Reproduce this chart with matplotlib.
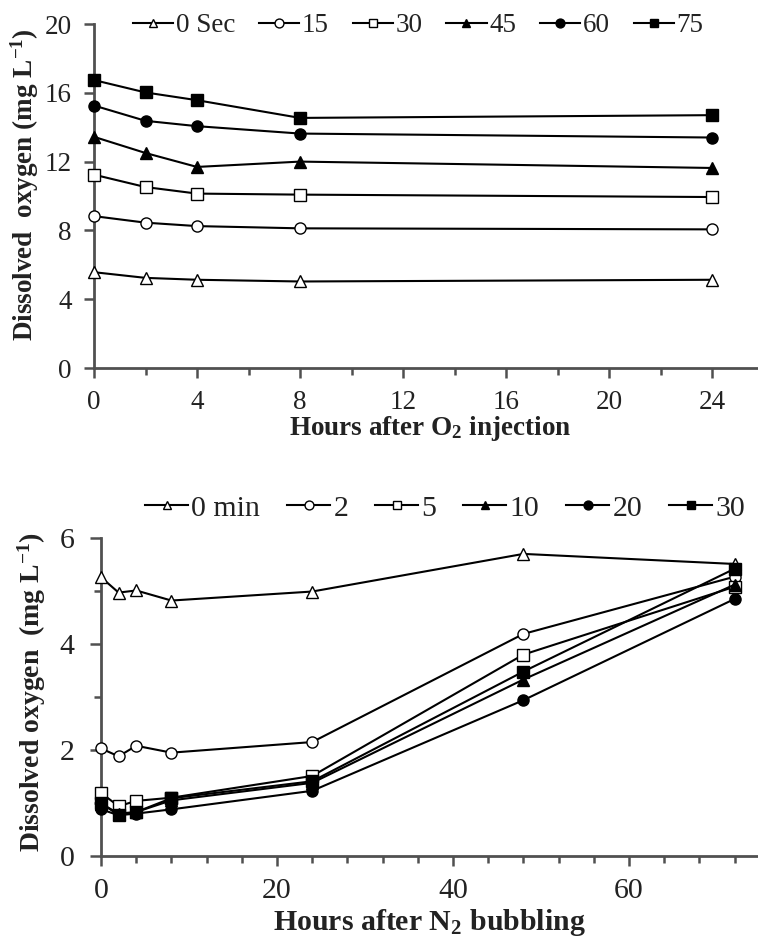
import matplotlib
matplotlib.use("Agg")
import matplotlib.pyplot as plt
from matplotlib.ticker import MultipleLocator

plt.rcParams['font.family'] = ['Liberation Serif', 'DejaVu Serif']
plt.rcParams['mathtext.fontset'] = 'custom'
plt.rcParams['mathtext.rm'] = 'Liberation Serif'
plt.rcParams['mathtext.bf'] = 'Liberation Serif:bold'
plt.rcParams['mathtext.it'] = 'Liberation Serif:italic'

# ---- Top panel data: O2 injection ----
top_hours = [0, 2, 4, 8, 24]
top_labels = ['0 Sec', '15', '30', '45', '60', '75']
top_0 = [5.57, 5.24, 5.13, 5.03, 5.13]
top_15 = [8.83, 8.45, 8.25, 8.12, 8.06]
top_30 = [11.24, 10.52, 10.14, 10.08, 9.94]
top_45 = [13.44, 12.50, 11.69, 12.00, 11.63]
top_60 = [15.26, 14.37, 14.06, 13.63, 13.40]
top_75 = [16.74, 16.02, 15.57, 14.54, 14.70]
top_series = [top_0, top_15, top_30, top_45, top_60, top_75]

# ---- Bottom panel data: N2 bubbling ----
bot_hours = [0, 2, 4, 8, 24, 48, 72]
bot_labels = ['0 min', '2', '5', '10', '20', '30']
bot_0 = [5.26, 4.97, 5.01, 4.82, 4.99, 5.70, 5.51]
bot_2 = [2.03, 1.88, 2.08, 1.95, 2.15, 4.19, 5.27]
bot_5 = [1.19, 0.94, 1.04, 1.10, 1.51, 3.80, 5.08]
bot_10 = [0.99, 0.80, 0.83, 1.05, 1.38, 3.33, 5.12]
bot_20 = [0.88, 0.77, 0.80, 0.88, 1.23, 2.94, 4.85]
bot_30 = [1.00, 0.77, 0.83, 1.09, 1.41, 3.48, 5.42]
bot_series = [bot_0, bot_2, bot_5, bot_10, bot_20, bot_30]

markers = ['^', 'o', 's', '^', 'o', 's']
faces = ['white', 'white', 'white', 'black', 'black', 'black']

W, H = 758, 938
fig = plt.figure(figsize=(W / 100, H / 100), dpi=100)

axis_col = '#505050'
text_col = '#222222'


def style_axes(ax, fs, xpad, ypad):
    for s in ['top', 'right']:
        ax.spines[s].set_visible(False)
    for s in ['left', 'bottom']:
        ax.spines[s].set_color(axis_col)
        ax.spines[s].set_linewidth(2.0)
    ax.tick_params(which='both', direction='out', color=axis_col, width=1.8,
                   labelsize=fs, labelcolor=text_col)
    ax.tick_params(which='major', length=7)
    ax.tick_params(which='minor', length=5)
    ax.tick_params(axis='x', which='major', pad=xpad)
    ax.tick_params(axis='y', which='major', pad=ypad)


def plot_series(ax, xs, series, labels):
    for ys, lab, m, fc in zip(series, labels, markers, faces):
        ax.plot(xs, ys, color='black', lw=1.5, marker=m, markersize=8,
                markerfacecolor=fc, markeredgecolor='black', markeredgewidth=1.0,
                label=lab, clip_on=False, zorder=3)


# ---------------- Top panel ----------------
fs1 = 19.5
ax1 = fig.add_axes([94 / W, 1 - 368 / H, (W - 94) / W, 344 / H])
plot_series(ax1, top_hours, top_series, top_labels)
ax1.set_xlim(0, (W - 94) / 25.75)
ax1.set_ylim(0, 20)
ax1.xaxis.set_major_locator(MultipleLocator(4))
ax1.xaxis.set_minor_locator(MultipleLocator(2))
ax1.yaxis.set_major_locator(MultipleLocator(4))
style_axes(ax1, fs1, xpad=8.5, ypad=9)
ax1.set_xlabel('Hours after O$_\\mathbf{2}$ injection', fontsize=19.5,
               fontweight='bold', color=text_col, va='top')
ax1.xaxis.set_label_coords(0.506, -0.133)
ax1.set_ylabel('Dissolved  oxygen (mg L$^{\\mathbf{-1}}$)', fontsize=19.5,
               fontweight='bold', color=text_col, va='center')
ax1.yaxis.set_label_coords(-0.104, 0.532)
ax1.legend(loc='center left', bbox_to_anchor=(0.059, 0.995), ncol=6, frameon=False,
           fontsize=fs1, handlelength=1.48, handletextpad=0.1,
           columnspacing=0.88, markerscale=0.8, borderaxespad=0, borderpad=0,
           labelcolor=text_col)

# ---------------- Bottom panel ----------------
fs2 = 21.5
ax2 = fig.add_axes([101 / W, 1 - 856 / H, (W - 101) / W, 318 / H])
plot_series(ax2, bot_hours, bot_series, bot_labels)
ax2.set_xlim(0, (W - 101) / 8.8)
ax2.set_ylim(0, 6)
ax2.xaxis.set_major_locator(MultipleLocator(20))
ax2.xaxis.set_minor_locator(MultipleLocator(4))
ax2.yaxis.set_major_locator(MultipleLocator(2))
ax2.yaxis.set_minor_locator(MultipleLocator(1))
style_axes(ax2, fs2, xpad=9, ypad=11)
ax2.tick_params(axis='y', which='major', length=8)
ax2.set_xlabel('Hours after N$_\\mathbf{2}$ bubbling', fontsize=21.5,
               fontweight='bold', color=text_col, va='center')
ax2.xaxis.set_label_coords(0.50, -0.208)
ax2.set_ylabel('Dissolved oxygen  (mg L$^{\\mathbf{-1}}$)', fontsize=20,
               fontweight='bold', color=text_col, va='center')
ax2.yaxis.set_label_coords(-0.105, 0.516)
ax2.legend(loc='center left', bbox_to_anchor=(0.067, 1.094), ncol=6, frameon=False,
           fontsize=fs2, handlelength=1.45, handletextpad=0.1,
           columnspacing=0.9, markerscale=0.8, borderaxespad=0, borderpad=0,
           labelcolor=text_col)

fig.savefig('out.png', dpi=100)
